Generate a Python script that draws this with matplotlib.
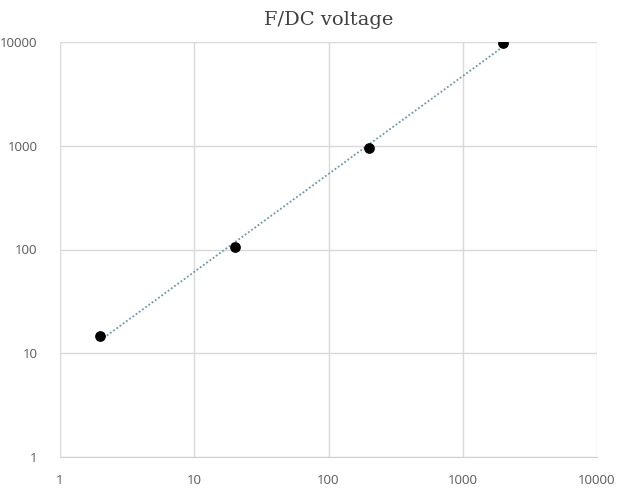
import numpy as np
import matplotlib.pyplot as plt

# data
freq = [2, 20, 200, 2000]
volt = [14.6, 106, 957, 9780]
x_ticks = [1, 10, 100, 1000, 10000]
y_ticks = [1, 10, 100, 1000, 10000]

# power trendline (Excel style) fitted in log space
slope, icpt = np.polyfit(np.log10(freq), np.log10(volt), 1)
xt = np.array([freq[0], freq[-1]])
yt = 10 ** icpt * xt ** slope

W, H = 617, 488
fig = plt.figure(figsize=(W / 100, H / 100), dpi=100)
ax = fig.add_axes([60 / W, (H - 457) / H, 537 / W, 415 / H])

ax.plot(xt, yt, linestyle=(0, (1, 1.2)), color='#6a97ad', lw=1.3, zorder=2)
ax.scatter(freq, volt, s=45, color='black', zorder=3)

ax.set_xscale('log')
ax.set_yscale('log')
ax.set_xlim(1, 10000)
ax.set_ylim(1, 10000)
ax.set_xticks(x_ticks)
ax.set_yticks(y_ticks)
ax.set_xticklabels([str(v) for v in x_ticks])
ax.set_yticklabels([str(v) for v in y_ticks])
ax.minorticks_off()
ax.grid(True, color='#d9d9d9', lw=1)
ax.set_axisbelow(True)
for s in ['top', 'right', 'left']:
    ax.spines[s].set_visible(False)
ax.spines['bottom'].set_color('#d0d0d0')
ax.tick_params(length=0, labelsize=9.5, colors='#595959')
ax.tick_params(axis='x', pad=12)
ax.tick_params(axis='y', pad=16)
for lab in ax.get_xticklabels() + ax.get_yticklabels():
    lab.set_family('Open Sans')

ax.set_title('F/DC voltage', fontsize=14, family='DejaVu Serif', color='#404040', pad=12)

fig.savefig('out.png')
